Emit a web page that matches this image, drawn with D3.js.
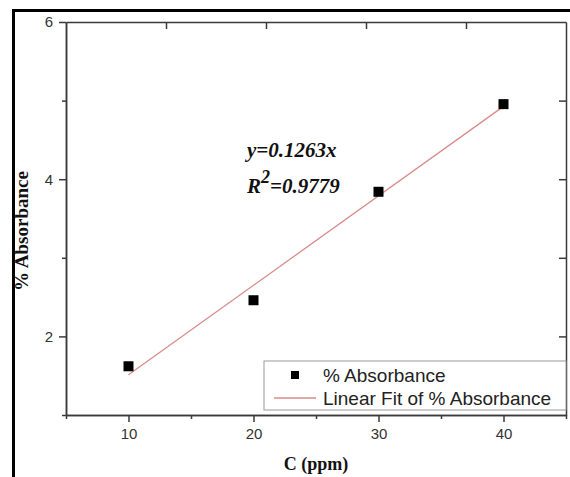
<!DOCTYPE html>
<html>
<head>
<meta charset="utf-8">
<script src="https://cdn.jsdelivr.net/npm/d3@7"></script>
<style>
  body { margin: 0; background: #fff; }
  svg { display: block; }
  .axis path, .axis line { stroke: #3a3a3a; stroke-width: 1.5; }
</style>
</head>
<body>
<div class="chart-view"></div>
<script>
// data
const concentration = [10, 20, 30, 40];
const absorbance = [1.62, 2.46, 3.84, 4.955];
const xMajorTicks = [10, 20, 30, 40];
const xMinorTicks = [5, 15, 25, 35, 45];
const yMajorTicks = [2, 4, 6];
const yMinorTicks = [1, 3, 5];
const topTicks = [1, 2, 3, 4];
const rightTicks = [2, 3, 4, 5];
const legendLabels = ['% Absorbance', 'Linear Fit of % Absorbance'];
const fitText = 'y=0.1263x';
const r2Text = '=0.9779';

const Width = 570;
const Height = 477;
const mLeft = 66, mRight = 566, mTop = 22, mBottom = 415;

const svg = d3.select('.chart-view').append('svg').attr('width', Width).attr('height', Height);

// outer frame of the figure
svg.append('path')
  .attr('d', 'M13.5,' + (Height + 5) + 'V10.5H' + (Width + 5))
  .attr('fill', 'none').attr('stroke', '#000').attr('stroke-width', 3);

const x = d3.scaleLinear().domain([5, 45]).range([mLeft, mRight]);
const y = d3.scaleLinear().domain([1, 6]).range([mBottom, mTop]);
const xTop = d3.scaleLinear().domain([0, 5]).range([mLeft, mRight]);

const styleTicks = g => g.selectAll('.tick text')
  .attr('font-family', "'Liberation Sans', Arial, sans-serif")
  .attr('font-size', 15).attr('fill', '#333');

// bottom axis
svg.append('g').attr('class', 'axis').attr('transform', 'translate(0,' + mBottom + ')')
  .call(d3.axisBottom(x).tickValues(xMinorTicks).tickSize(4).tickSizeOuter(0).tickFormat(''));
svg.append('g').attr('class', 'axis').attr('transform', 'translate(0,' + mBottom + ')')
  .call(d3.axisBottom(x).tickValues(xMajorTicks).tickSize(7).tickSizeOuter(0).tickPadding(6).tickFormat(d3.format('d')))
  .call(styleTicks);

// left axis
svg.append('g').attr('class', 'axis').attr('transform', 'translate(' + mLeft + ',0)')
  .call(d3.axisLeft(y).tickValues(yMinorTicks).tickSize(4).tickSizeOuter(0).tickFormat(''));
svg.append('g').attr('class', 'axis').attr('transform', 'translate(' + mLeft + ',0)')
  .call(d3.axisLeft(y).tickValues(yMajorTicks).tickSize(7).tickSizeOuter(0).tickPadding(6).tickFormat(d3.format('d')))
  .call(styleTicks);

// top and right frame with inward ticks
svg.append('g').attr('class', 'axis').attr('transform', 'translate(0,' + mTop + ')')
  .call(d3.axisTop(xTop).tickValues(topTicks).tickSize(-7).tickSizeOuter(0).tickFormat(''));
svg.append('g').attr('class', 'axis').attr('transform', 'translate(' + mRight + ',0)')
  .call(d3.axisRight(y).tickValues(rightTicks).tickSize(-7).tickSizeOuter(0).tickFormat(''));

// least squares fit of the points
const mx = d3.mean(concentration);
const my = d3.mean(absorbance);
const slope = d3.sum(concentration, (d, i) => (d - mx) * (absorbance[i] - my)) /
  d3.sum(concentration, d => (d - mx) * (d - mx));
const intercept = my - slope * mx;
const xExtent = d3.extent(concentration);

svg.append('line')
  .attr('x1', x(xExtent[0])).attr('y1', y(intercept + slope * xExtent[0]))
  .attr('x2', x(xExtent[1])).attr('y2', y(intercept + slope * xExtent[1]))
  .attr('stroke', '#d98c8c').attr('stroke-width', 1.3);

const ms = 10;
svg.selectAll('.pt').data(concentration).enter().append('rect')
  .attr('class', 'pt')
  .attr('x', d => x(d) - ms / 2)
  .attr('y', (d, i) => y(absorbance[i]) - ms / 2)
  .attr('width', ms).attr('height', ms).attr('fill', '#000');

// equation
const eq = svg.append('g')
  .attr('font-family', "'Liberation Serif', 'Times New Roman', serif")
  .attr('font-weight', 'bold').attr('font-style', 'italic').attr('font-size', 21)
  .attr('fill', '#111');
eq.append('text').attr('x', 247).attr('y', 157).text(fitText);
const r2 = eq.append('text').attr('x', 247).attr('y', 193);
r2.append('tspan').text('R');
r2.append('tspan').attr('font-size', 18).attr('dy', -10).text('2');
r2.append('tspan').attr('dy', 10).text(r2Text);

// legend
const lg = svg.append('g').attr('transform', 'translate(264,361)');
lg.append('rect').attr('width', mRight - 264).attr('height', 49)
  .attr('fill', '#fff').attr('stroke', '#9a9a9a').attr('stroke-width', 1);
lg.append('rect').attr('x', 27).attr('y', 10).attr('width', 8).attr('height', 8).attr('fill', '#000');
lg.append('line').attr('x1', 10).attr('x2', 52).attr('y1', 37).attr('y2', 37)
  .attr('stroke', '#d98c8c').attr('stroke-width', 1.3);
lg.selectAll('.lt').data(legendLabels).enter().append('text')
  .attr('class', 'lt')
  .attr('x', 59).attr('y', (d, i) => 21 + i * 23)
  .attr('font-family', "'Liberation Sans', Arial, sans-serif").attr('font-size', 19)
  .attr('fill', '#222')
  .text(d => d);

// axis titles
svg.append('text')
  .attr('x', (mLeft + mRight) / 2).attr('y', 470).attr('text-anchor', 'middle')
  .attr('font-family', "'Liberation Serif', 'Times New Roman', serif")
  .attr('font-weight', 'bold').attr('font-size', 18).attr('fill', '#111')
  .text('C (ppm)');
svg.append('text')
  .attr('transform', 'translate(28,231) rotate(-90)').attr('text-anchor', 'middle')
  .attr('font-family', "'Liberation Serif', 'Times New Roman', serif")
  .attr('font-weight', 'bold').attr('font-size', 19).attr('fill', '#111')
  .text('% Absorbance');
</script>
</body>
</html>
